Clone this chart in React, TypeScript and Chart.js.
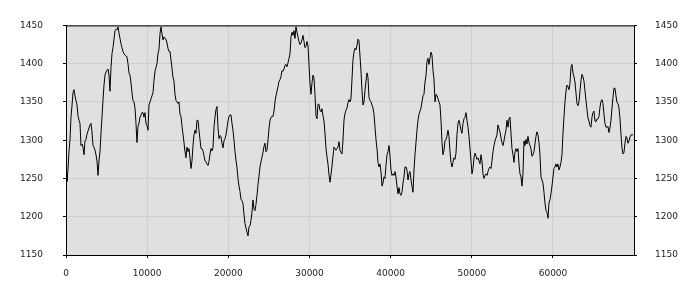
import { useEffect, useRef } from "react";
import { Chart, registerables } from "chart.js";

Chart.register(...registerables);

// Series values, left to right (one value per ~123 x-units)
const seg1 = [
  1255, 1246, 1262, 1285, 1301, 1330, 1345, 1362, 1366, 1358,
  1352, 1346, 1332, 1326, 1322, 1293, 1295, 1291, 1281, 1299,
  1301, 1308, 1312, 1316, 1320, 1322, 1311, 1293, 1291, 1287,
  1281, 1273, 1254, 1273, 1285, 1309, 1330, 1352, 1372, 1385,
  1389, 1391, 1393, 1385, 1364, 1395, 1413, 1421, 1432, 1443,
  1445, 1444, 1448, 1440, 1433, 1426, 1421, 1416, 1413, 1411,
  1410, 1409, 1400, 1388, 1385, 1375, 1362, 1352, 1350, 1342,
  1322, 1297, 1318, 1322, 1330, 1333, 1336, 1336, 1330, 1336,
  1322, 1319, 1313, 1346, 1350, 1354, 1358, 1362, 1378, 1390,
  1395, 1400, 1413, 1419,
];
const seg2 = [
  1439, 1448, 1439, 1431, 1435, 1433, 1432, 1427, 1420, 1416,
  1416, 1405, 1394, 1382, 1377, 1360, 1352, 1350, 1348, 1350,
  1334, 1331, 1318, 1308, 1297, 1285, 1277, 1291, 1285, 1289,
  1277, 1263, 1273, 1293, 1307, 1313, 1309, 1326, 1326, 1313,
  1301, 1289, 1289, 1286, 1280, 1273, 1272, 1269, 1267, 1272,
  1282, 1289, 1286, 1290, 1317, 1330, 1340, 1344, 1317, 1302,
  1306, 1305, 1296, 1290, 1299, 1302, 1307, 1316, 1325, 1331,
  1333, 1333, 1322, 1313, 1300, 1285, 1274, 1264, 1250, 1240,
  1233, 1223, 1221, 1217, 1203, 1191, 1185, 1180, 1175, 1187,
  1188, 1195, 1206, 1222,
];
const seg3 = [
  1210, 1208, 1216, 1228, 1242, 1253, 1265, 1272, 1278, 1284,
  1292, 1296, 1285, 1287, 1300, 1315, 1326, 1330, 1331, 1331,
  1338, 1350, 1358, 1364, 1370, 1377, 1379, 1383, 1391, 1390,
  1393, 1398, 1399, 1396, 1401, 1407, 1413, 1435, 1441, 1437,
  1443, 1433, 1448, 1441, 1435, 1429, 1425, 1427, 1431, 1437,
  1429, 1421, 1423, 1429, 1423, 1399, 1374, 1360, 1375, 1385,
  1381, 1360, 1332, 1328, 1347, 1347, 1339, 1337, 1341, 1332,
  1325, 1309, 1289, 1278, 1269, 1255, 1245, 1255, 1266, 1279,
  1291, 1289, 1287, 1289, 1291, 1298, 1287, 1284, 1282, 1300,
  1326, 1335, 1339, 1342,
];
const seg4 = [
  1349, 1353, 1350, 1354, 1380, 1405, 1415, 1420, 1418, 1424,
  1432, 1430, 1410, 1390, 1365, 1346, 1350, 1365, 1377, 1388,
  1382, 1356, 1352, 1350, 1346, 1342, 1334, 1317, 1301, 1289,
  1271, 1265, 1269, 1259, 1240, 1244, 1252, 1250, 1267, 1281,
  1285, 1293, 1279, 1261, 1254, 1256, 1254, 1259, 1252, 1240,
  1230, 1238, 1230, 1228, 1232, 1244, 1252, 1265, 1265, 1261,
  1248, 1256, 1259, 1248, 1240, 1232, 1261, 1281, 1297, 1313,
  1326, 1334, 1338, 1342, 1350, 1358, 1360, 1376, 1384, 1403,
  1407, 1399, 1407, 1415, 1411, 1391, 1380, 1350, 1360, 1358,
  1354, 1350, 1346, 1326,
];
const seg5 = [
  1297, 1281, 1287, 1299, 1301, 1305, 1313, 1305, 1285, 1271,
  1265, 1271, 1277, 1275, 1283, 1307, 1322, 1326, 1320, 1313,
  1309, 1322, 1328, 1330, 1336, 1326, 1317, 1305, 1289, 1273,
  1256, 1263, 1277, 1283, 1279, 1275, 1277, 1273, 1269, 1281,
  1273, 1256, 1250, 1254, 1256, 1254, 1259, 1263, 1265, 1263,
  1273, 1285, 1293, 1299, 1303, 1307, 1320, 1315, 1311, 1303,
  1297, 1293, 1299, 1307, 1313, 1326, 1317, 1328, 1330, 1309,
  1289, 1281, 1271, 1285, 1289, 1285, 1289, 1269, 1256, 1252,
  1240, 1256, 1299, 1293, 1301, 1295, 1305, 1297, 1293, 1289,
  1279, 1281, 1285, 1295,
];
const seg6 = [
  1305, 1311, 1307, 1297, 1281, 1252, 1248, 1244, 1232, 1218,
  1208, 1206, 1198, 1218, 1222, 1230, 1240, 1252, 1263, 1265,
  1269, 1265, 1269, 1261, 1265, 1271, 1281, 1309, 1330, 1350,
  1364, 1372, 1370, 1366, 1374, 1395, 1399, 1388, 1383, 1376,
  1362, 1348, 1345, 1350, 1364, 1378, 1386, 1383, 1377, 1365,
  1352, 1340, 1329, 1325, 1319, 1317, 1330, 1336, 1338, 1325,
  1324, 1328, 1328, 1331, 1343, 1351, 1353, 1348, 1334, 1322,
  1317, 1317, 1318, 1310, 1316, 1326, 1342, 1356, 1368, 1368,
  1358, 1349, 1348, 1342, 1328, 1308, 1290, 1282, 1284, 1296,
  1305, 1303, 1296, 1299, 1304, 1307, 1307, 1307,
];

const X_STEP = 123.2;
const X_MIN = 0;
const X_MAX = 69980;
const X_TICKS = [0, 10000, 20000, 30000, 40000, 50000, 60000];
const Y_MIN = 1150;
const Y_MAX = 1450;
const Y_TICKS = [1150, 1200, 1250, 1300, 1350, 1400, 1450];

export default function App() {
  const ref = useRef<HTMLCanvasElement>(null);

  useEffect(() => {
    if (!ref.current) return;
    const values = [...seg1, ...seg2, ...seg3, ...seg4, ...seg5, ...seg6];
    const points = values.map((v, i) => ({ x: X_MIN + i * X_STEP, y: v }));

    const plotFrame = {
      id: "plotFrame",
      beforeDraw(chart: any) {
        const { ctx, chartArea: a } = chart;
        ctx.save();
        ctx.fillStyle = "#e0e0e0";
        ctx.fillRect(a.left, a.top, a.right - a.left, a.bottom - a.top);
        ctx.restore();
      },
      afterDraw(chart: any) {
        const { ctx, chartArea: a } = chart;
        ctx.save();
        ctx.strokeStyle = "#000";
        ctx.lineWidth = 1;
        ctx.strokeRect(a.left + 0.5, a.top + 0.5, a.right - a.left, a.bottom - a.top);
        ctx.restore();
      },
    };

    const font = { family: "'DejaVu Sans', sans-serif", size: 9 };
    const tickText = (v: any) => String(v);
    const setTicks = (list: number[]) => (s: any) => {
      s.ticks = list.map((v) => ({ value: v }));
    };

    const chart = new Chart(ref.current, {
      type: "line",
      data: {
        datasets: [
          {
            data: points,
            borderColor: "#000",
            borderWidth: 1,
            pointRadius: 0,
            tension: 0,
            fill: false,
          },
        ],
      },
      plugins: [plotFrame],
      options: {
        animation: false,
        responsive: true,
        maintainAspectRatio: false,
        layout: { padding: { top: 10, left: 0, right: 0, bottom: 0 } },
        plugins: { legend: { display: false }, tooltip: { enabled: false } },
        scales: {
          x: {
            type: "linear",
            position: "bottom",
            min: X_MIN,
            max: X_MAX,
            afterBuildTicks: setTicks(X_TICKS),
            afterFit: (s: any) => {
              s.height = 45;
            },
            ticks: {
              padding: 10,
              color: "#222",
              font,
              maxRotation: 0,
              autoSkip: false,
              callback: tickText,
            },
            grid: { color: "#cfcfcf", tickColor: "#000", tickLength: 3, lineWidth: 1 },
            border: { color: "#000" },
          },
          y: {
            type: "linear",
            position: "left",
            min: Y_MIN,
            max: Y_MAX,
            afterBuildTicks: setTicks(Y_TICKS),
            afterFit: (s: any) => {
              s.width = 66;
            },
            ticks: {
              padding: 20,
              color: "#222",
              font,
              callback: tickText,
            },
            grid: { color: "#cfcfcf", tickColor: "#000", tickLength: 3, lineWidth: 1 },
            border: { color: "#000" },
          },
          y2: {
            type: "linear",
            position: "right",
            min: Y_MIN,
            max: Y_MAX,
            afterBuildTicks: setTicks(Y_TICKS),
            afterFit: (s: any) => {
              s.width = 66;
            },
            ticks: {
              padding: 18,
              color: "#222",
              font,
              callback: tickText,
            },
            grid: { drawOnChartArea: false, tickColor: "#000", tickLength: 3 },
            border: { color: "#000" },
          },
        },
      },
    } as any);

    return () => chart.destroy();
  }, []);

  return (
    <div style={{ position: "fixed", left: 0, top: 0, width: 700, height: 300, background: "#fff" }}>
      <canvas ref={ref} />
    </div>
  );
}
